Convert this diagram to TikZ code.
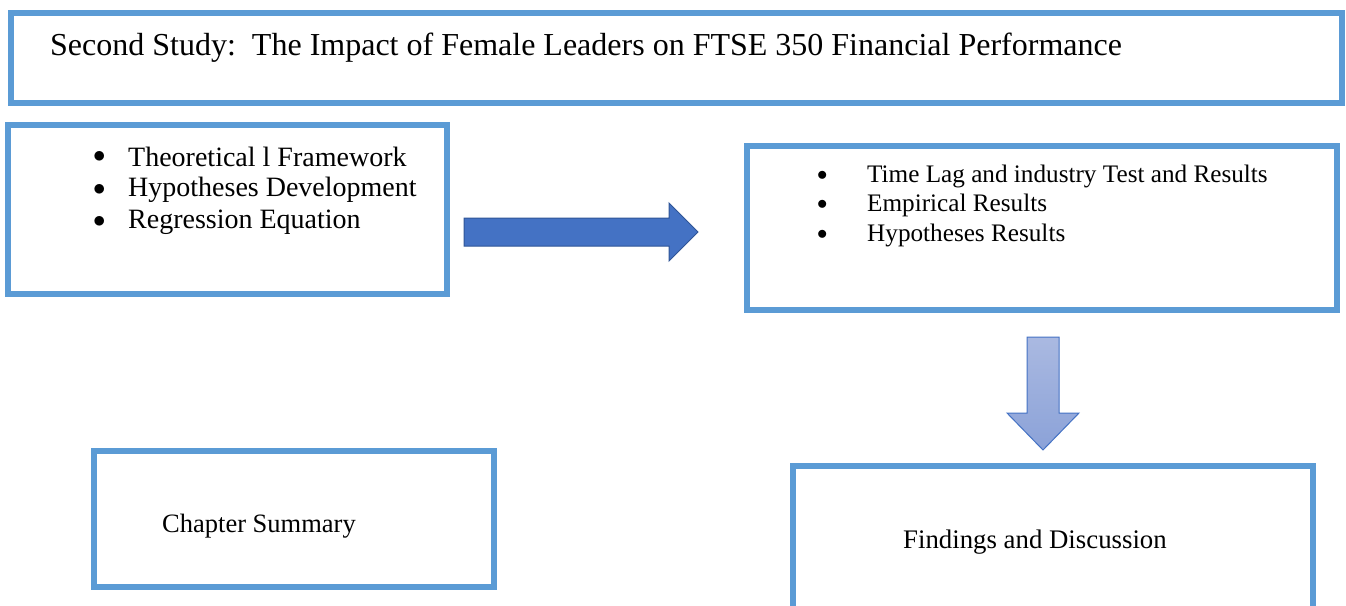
\documentclass[tikz,border=0pt]{standalone}
\usepackage{fontspec}
\setmainfont{Liberation Serif}
\usetikzlibrary{calc}
\definecolor{boxblue}{HTML}{5B9BD5}
\definecolor{arrowfill}{HTML}{4472C4}
\definecolor{arrowedge}{HTML}{2F5597}
\definecolor{downtop}{HTML}{AAB9E1}
\definecolor{downbot}{HTML}{8BA2D8}
\tikzset{
  box/.style={draw=boxblue, line width=6pt, fill=white, inner sep=0pt},
  plain/.style={anchor=west, inner sep=0pt, font=\fontsize{#1}{#1}\selectfont}
}
\begin{document}
\begin{tikzpicture}[x=1pt,y=-1pt]
\useasboundingbox (0,0) rectangle (1346,605);
\clip (0,0) rectangle (1346,605);
% boxes
\node[box, minimum width=1331pt, minimum height=90pt] (title) at (676.5,58) {};
\node[box, minimum width=439pt, minimum height=169pt] (left) at (227.5,209.5) {};
\node[box, minimum width=590pt, minimum height=164pt] (right) at (1042,228) {};
\node[box, minimum width=400pt, minimum height=136pt] (summary) at (294,519) {};
\node[box, minimum width=520pt, minimum height=200pt] (findings) at (1053,566) {};
% texts
\node[plain=32] (ttl) at (50,48) {Second Study:\ \ The Impact of Female Leaders on FTSE 350 Financial Performance};
\node[plain=24] (b1) at (93,157) {$\bullet$};
\node[plain=28] (l1) at (128,157) {Theoretical l Framework};
\node[plain=24] (b2) at (93,190) {$\bullet$};
\node[plain=28] (l2) at (128,190) {Hypotheses Development};
\node[plain=24] (b3) at (93,222) {$\bullet$};
\node[plain=28] (l3) at (128,222) {Regression Equation};
\node[plain=21] (c1) at (817,176) {$\bullet$};
\node[plain=25.2] (r1) at (867,176) {Time Lag and industry Test and Results};
\node[plain=21] (c2) at (817,205) {$\bullet$};
\node[plain=25.2] (r2) at (867,205) {Empirical Results};
\node[plain=21] (c3) at (817,235) {$\bullet$};
\node[plain=25.2] (r3) at (867,235) {Hypotheses Results};
\node[plain=26.5] (s1) at (162,526) {Chapter Summary};
\node[plain=26.8] (f1) at (903,542) {Findings and Discussion};
% right block arrow
\coordinate (rtip) at (698,232);
\filldraw[fill=arrowfill, draw=arrowedge, line width=1pt]
  (464,218) -- (669,218) -- (669,203) -- (rtip) -- (669,261) -- (669,246) -- (464,246) -- cycle;
% down block arrow
\coordinate (dtip) at (1043,450);
\shade[top color=downtop, bottom color=downbot, draw=arrowfill, line width=1pt]
  (1027,337) -- (1059,337) -- (1059,413) -- (1079,413) -- (dtip) -- (1007,413) -- (1027,413) -- cycle;
\end{tikzpicture}
\end{document}
